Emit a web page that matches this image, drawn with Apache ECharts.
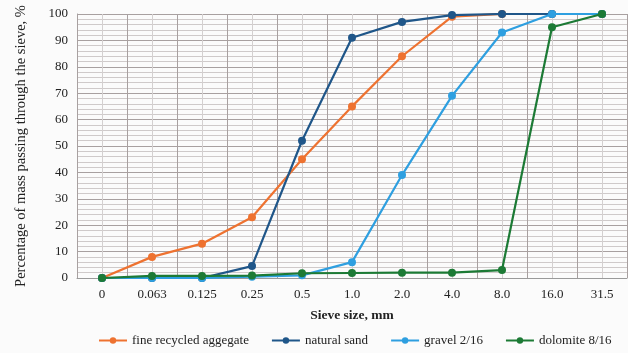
<!DOCTYPE html>
<html><head><meta charset="utf-8">
<script src="https://cdn.jsdelivr.net/npm/echarts@6/dist/echarts.min.js"></script>
<style>html,body{margin:0;padding:0;background:#fbfbfb}#c{width:628px;height:353px}</style>
</head><body><div id="c"></div>
<script>
const categories = ['0','0.063','0.125','0.25','0.5','1.0','2.0','4.0','8.0','16.0','31.5'];
const fineRecycled = [0, 8, 13, 23, 45, 65, 84, 99, 100, 100, 100];
const naturalSand = [0, 0, 0, 4.5, 52, 91, 97, 99.6, 100, 100, 100];
const gravel = [0, 0, 0, 0.5, 1, 6, 39, 69, 93, 100, 100];
const dolomite = [0, 0.8, 0.8, 0.9, 1.8, 1.9, 2, 2, 3, 95, 100];
const seriesNames = ['fine recycled aggegate','natural sand','gravel 2/16','dolomite 8/16'];
const colors = ['#ee7230','#1f5689','#2e9fe0','#1c7a35'];
const font = '"Liberation Serif", "Times New Roman", serif';

const chart = echarts.init(document.getElementById('c'));
const mk = (name, data, i) => ({
  name, type: 'line', data, xAxisIndex: 0, yAxisIndex: 0,
  symbol: 'circle', symbolSize: 8, color: colors[i],
  lineStyle: {width: 2.2, color: colors[i]}, itemStyle: {color: colors[i]},
  z: 10 + i
});
chart.setOption({
  backgroundColor: '#fbfbfb',
  animation: false,
  textStyle: {fontFamily: font},
  grid: {left: 77, right: 1, top: 14, bottom: 75},
  legend: {
    bottom: 1, left: 93, itemWidth: 28, itemHeight: 8, itemGap: 22,
    textStyle: {fontFamily: font, fontSize: 13, color: '#222'},
    data: seriesNames
  },
  xAxis: [{
    type: 'category', data: categories, boundaryGap: true,
    axisLine: {show: true, lineStyle: {color: '#9a9a9a'}},
    axisTick: {show: false},
    axisLabel: {fontFamily: font, fontSize: 13, color: '#222', margin: 10},
    splitLine: {show: true, interval: 0, lineStyle: {color: '#a8a0a0', width: 1}},
    name: 'Sieve size, mm', nameLocation: 'middle', nameGap: 31,
    nameTextStyle: {fontFamily: font, fontSize: 13.5, fontWeight: 'bold', color: '#222'},
    z: 3
  }, {
    type: 'value', min: 0, max: 22, interval: 1, position: 'bottom',
    axisLine: {show: false}, axisTick: {show: false}, axisLabel: {show: false},
    splitLine: {show: true, lineStyle: {color: '#d4d0d0', width: 1}}, z: 1
  }],
  yAxis: {
    type: 'value', min: 0, max: 100, interval: 10,
    axisLine: {show: true, lineStyle: {color: '#9a9a9a'}},
    axisTick: {show: false},
    axisLabel: {fontFamily: font, fontSize: 13, color: '#222', margin: 9},
    splitLine: {show: true, lineStyle: {color: '#a8a0a0', width: 1}},
    minorTick: {show: false, splitNumber: 5},
    minorSplitLine: {show: true, lineStyle: {color: '#cfcaca', width: 1}},
    name: 'Percentage of mass passing through the sieve, %', nameLocation: 'middle', nameGap: 48,
    nameTextStyle: {fontFamily: font, fontSize: 14.5, color: '#222'}
  },
  series: [
    mk(seriesNames[0], fineRecycled, 0),
    mk(seriesNames[1], naturalSand, 1),
    mk(seriesNames[2], gravel, 2),
    mk(seriesNames[3], dolomite, 3)
  ]
});
</script></body></html>
